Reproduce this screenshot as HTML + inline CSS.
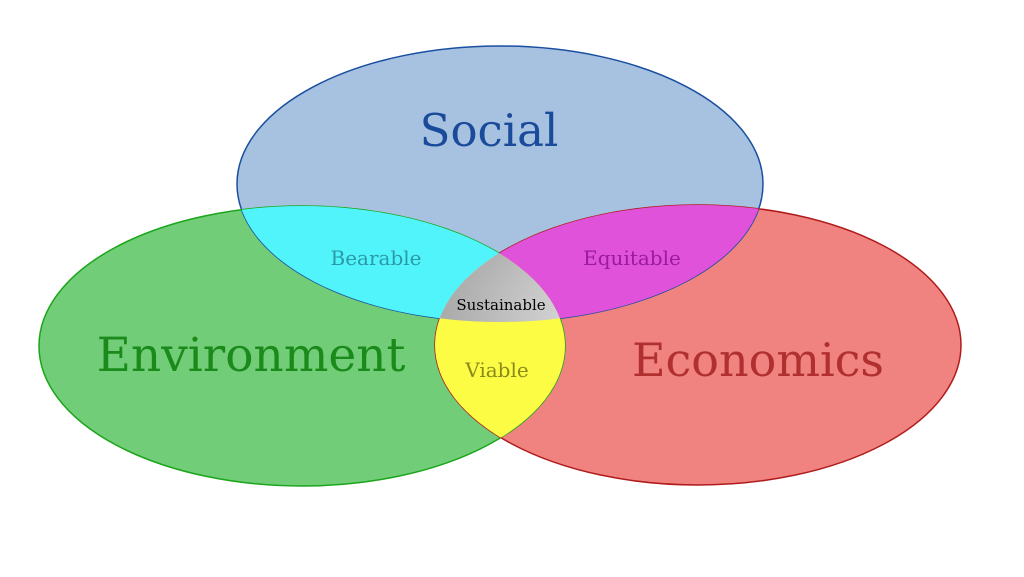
<!DOCTYPE html>
<html><head><meta charset="utf-8"><style>
html,body{margin:0;padding:0;background:#fff;width:1024px;height:577px;overflow:hidden}
text{font-family:"DejaVu Serif","Liberation Serif",serif}
</style></head><body>
<svg width="1024" height="577" viewBox="0 0 1024 577" xmlns="http://www.w3.org/2000/svg">
<defs>
<clipPath id="cs"><ellipse cx="500" cy="184" rx="263" ry="138"/></clipPath>
<clipPath id="ce"><ellipse cx="302" cy="346" rx="263" ry="140"/></clipPath>
<radialGradient id="g" cx="0.5" cy="0.4" r="0.65">
<stop offset="0" stop-color="#ffffff"/><stop offset="1" stop-color="#8e8e8e"/></radialGradient>
</defs>
<ellipse cx="500" cy="184" rx="263" ry="138" fill="#a7c1e0"/>
<ellipse cx="302" cy="346" rx="263" ry="140" fill="#72cd79"/>
<ellipse cx="698" cy="345" rx="263" ry="140" fill="#f0837f"/>
<ellipse cx="500" cy="184" rx="263" ry="138" fill="none" stroke="#1a4fa0" stroke-width="1.5"/>
<ellipse cx="302" cy="346" rx="263" ry="140" fill="none" stroke="#1aa51a" stroke-width="1.5"/>
<ellipse cx="698" cy="345" rx="263" ry="140" fill="none" stroke="#b01c1c" stroke-width="1.5"/>
<g clip-path="url(#cs)">
<ellipse cx="302" cy="346" rx="263" ry="140" fill="#50f4fa"/>
<ellipse cx="698" cy="345" rx="263" ry="140" fill="#e052d9"/>
</g>
<g clip-path="url(#ce)"><ellipse cx="698" cy="345" rx="263" ry="140" fill="#fcfc44"/></g>
<g clip-path="url(#cs)"><g clip-path="url(#ce)"><ellipse cx="698" cy="345" rx="263" ry="140" fill="url(#g)"/></g></g>
<text x="489" y="146" font-size="45" fill="#1a4a9a" text-anchor="middle">Social</text>
<text x="251" y="371" font-size="47" fill="#1a8a1a" text-anchor="middle">Environment</text>
<text x="758" y="376" font-size="46" fill="#b03030" text-anchor="middle">Economics</text>
<text x="376" y="265" font-size="20" fill="#2a9aa8" text-anchor="middle">Bearable</text>
<text x="632" y="265" font-size="20" fill="#9a1aa0" text-anchor="middle">Equitable</text>
<text x="497" y="377" font-size="20" fill="#8a8a1a" text-anchor="middle">Viable</text>
<text x="501" y="310" font-size="15" fill="#000" text-anchor="middle">Sustainable</text>
</svg>
</body></html>
